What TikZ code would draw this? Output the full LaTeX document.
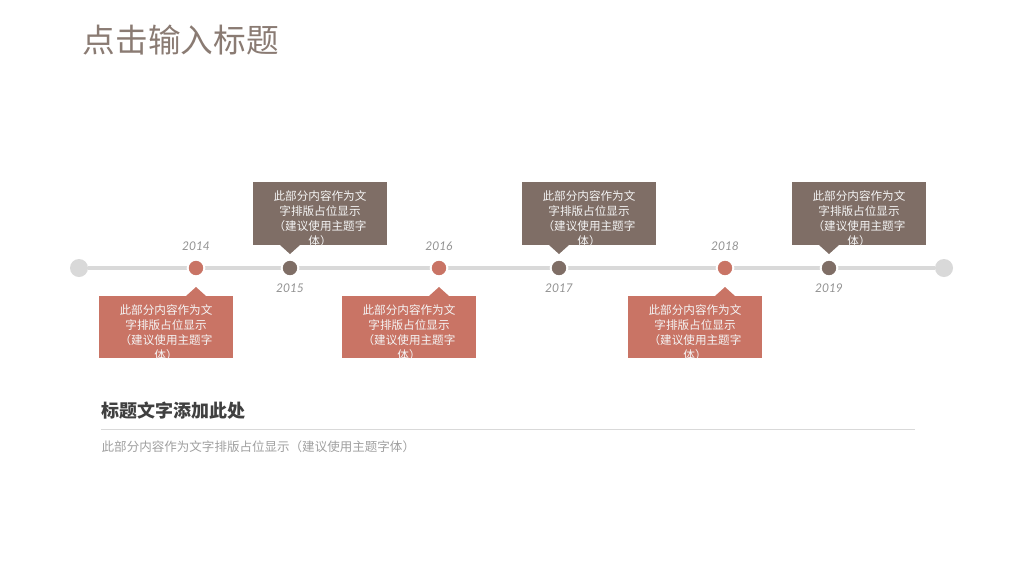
\documentclass[tikz,border=0pt]{standalone}
\usepackage{fontspec}
\setmainfont{Noto Sans CJK SC}
\newfontfamily\yearfont{Lato}
\definecolor{tlred}{HTML}{C97465}
\definecolor{tlbrown}{HTML}{7F6E66}
\definecolor{tlgray}{HTML}{D9D9D9}
\definecolor{titlegray}{HTML}{8A7B73}
\begin{document}
\begin{tikzpicture}[
        x=0.75pt, y=-0.75pt,
        dot/.style={circle, draw=white, line width=1.5pt, minimum size=12.5pt, inner sep=0pt},
        enddot/.style={circle, fill=tlgray, minimum size=13.5pt, inner sep=0pt},
        year/.style={font=\yearfont\itshape\fontsize{9}{10}\selectfont, text=gray!85},
        boxtext/.style={font=\fontsize{8.7}{11.4}\selectfont, text=white!92!gray, align=center, anchor=north, inner sep=0pt}
    ]
        \useasboundingbox (0,0) rectangle (1024,576);

        % Title
        \node[anchor=west, text=titlegray, font=\fontsize{24.5}{28}\selectfont] (title) at (78,40) {点击输入标题};

        % Timeline
        \node[enddot] (start) at (79,268) {};
        \node[enddot] (end) at (944,268) {};
        \draw[tlgray, line width=3pt] (start) -- (end);

        % Dots, years and boxes
        \foreach \x/\yr/\col/\up in {196/2014/tlred/0, 290/2015/tlbrown/1, 439/2016/tlred/0, 559/2017/tlbrown/1, 725/2018/tlred/0, 829/2019/tlbrown/1} {
            \node[dot, fill=\col] (dot\yr) at (\x,268) {};
            \ifnum\up=1
                \pgfmathsetmacro{\bx}{\x+30}
                \node[year] (year\yr) at (\x,288) {\yr};
                \fill[\col] (\bx-67,182) rectangle (\bx+67,245);
                \fill[\col] (\x-10,245) -- (\x+10,245) -- (\x,254) -- cycle;
                \begin{scope}
                    \clip (\bx-67,182) rectangle (\bx+67,245);
                    \node[boxtext] (box\yr) at (\bx,190) {此部分内容作为文\\字排版占位显示\\（建议使用主题字\\体）};
                \end{scope}
            \else
                \pgfmathsetmacro{\bx}{\x-30}
                \node[year] (year\yr) at (\x,246) {\yr};
                \fill[\col] (\bx-67,296) rectangle (\bx+67,358);
                \fill[\col] (\x-10,296) -- (\x+10,296) -- (\x,287) -- cycle;
                \begin{scope}
                    \clip (\bx-67,296) rectangle (\bx+67,358);
                    \node[boxtext] (box\yr) at (\bx,304) {此部分内容作为文\\字排版占位显示\\（建议使用主题字\\体）};
                \end{scope}
            \fi
        }

        % Bottom text block
        \node[anchor=west, text=black!75, font=\bfseries\fontsize{13.5}{16}\selectfont] (subtitle) at (97,411) {标题文字添加此处};
        \coordinate (ruleL) at (101,429);
        \coordinate (ruleR) at (915,429);
        \draw[tlgray, line width=0.6pt] (ruleL) -- (ruleR);
        \node[anchor=west, text=gray!75, font=\fontsize{9.4}{11}\selectfont] (body) at (97,447) {此部分内容作为文字排版占位显示（建议使用主题字体）};
    \end{tikzpicture}
\end{document}
